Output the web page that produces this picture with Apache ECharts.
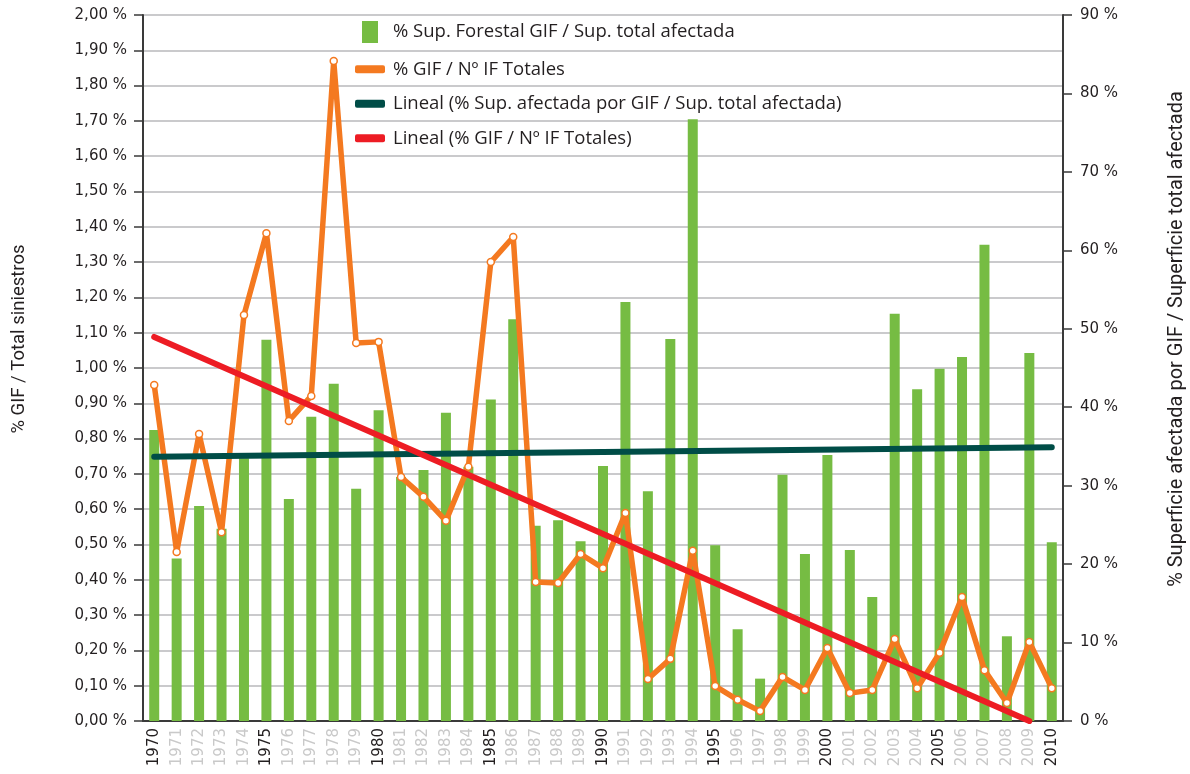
<!DOCTYPE html>
<html>
<head>
<meta charset="utf-8">
<script src="https://cdn.jsdelivr.net/npm/echarts@6/dist/echarts.min.js"></script>
<style>
  html, body { margin: 0; padding: 0; background: #fff; }
  #chart { width: 1190px; height: 774px; }
</style>
</head>
<body>
<div id="chart"></div>
<script>
// categorías (años)
const years = ["1970","1971","1972","1973","1974","1975","1976","1977","1978","1979",
  "1980","1981","1982","1983","1984","1985","1986","1987","1988","1989",
  "1990","1991","1992","1993","1994","1995","1996","1997","1998","1999",
  "2000","2001","2002","2003","2004","2005","2006","2007","2008","2009","2010"];

// % Sup. Forestal GIF / Sup. total afectada (eje derecho)
const supForestal = [37.1, 20.7, 27.4, 24.5, 33.5, 48.6, 28.3, 38.8, 43.0, 29.6,
  39.6, 31.1, 32.0, 39.3, 32.4, 41.0, 51.2, 24.9, 25.6, 22.9,
  32.5, 53.4, 29.3, 48.7, 76.7, 22.4, 11.7, 5.4, 31.4, 21.3,
  33.9, 21.8, 15.8, 51.9, 42.3, 44.9, 46.4, 60.7, 10.8, 46.9, 22.8];

// % GIF / Nº IF Totales (eje izquierdo)
const gifTotales = [0.952, 0.479, 0.813, 0.535, 1.150, 1.382, 0.850, 0.921, 1.870, 1.071,
  1.074, 0.691, 0.635, 0.567, 0.720, 1.300, 1.371, 0.394, 0.391, 0.473,
  0.433, 0.589, 0.119, 0.176, 0.482, 0.099, 0.060, 0.028, 0.125, 0.088,
  0.207, 0.079, 0.088, 0.232, 0.093, 0.193, 0.351, 0.144, 0.051, 0.224, 0.093];

// líneas de tendencia: [índice de año, valor]
const linealSup = [[0, 33.7], [40, 34.9]];
const linealGif = [[0, 1.088], [39, 0.0]];

const names = [
  "% Sup. Forestal GIF / Sup. total afectada",
  "% GIF / Nº IF Totales",
  "Lineal (% Sup. afectada por GIF / Sup. total afectada)",
  "Lineal (% GIF / Nº IF Totales)"
];

const chart = echarts.init(document.getElementById("chart"));
const txt = "#231f20";
const tickFont = "DejaVu Sans";
const legendFont = "Open Sans";

const option = {
  animation: false,
  grid: { left: 143, right: 127, top: 15, bottom: 53, outerBoundsMode: "none", containLabel: false },
  legend: [
    {
      data: [names[0]],
      left: 362, top: 21,
      padding: 0,
      itemWidth: 16, itemHeight: 22,
      icon: "rect",
      textStyle: { color: txt, fontFamily: legendFont, fontSize: 18.5, padding: [0, 0, 0, 10] }
    },
    {
      data: [
        { name: names[1], icon: "roundRect", itemStyle: { color: "#f47920", borderWidth: 0 } },
        { name: names[2], icon: "roundRect" },
        { name: names[3], icon: "roundRect" }
      ],
      orient: "vertical",
      left: 355, top: 59,
      padding: 0,
      itemWidth: 30, itemHeight: 8, itemGap: 14,
      textStyle: { color: txt, fontFamily: legendFont, fontSize: 18.5, lineHeight: 20.5, padding: [0, 0, 0, 3] }
    }
  ],
  xAxis: {
    type: "category",
    data: years,
    boundaryGap: true,
    axisLine: { lineStyle: { color: "#3a3a3a", width: 2 } },
    axisTick: { show: false },
    axisLabel: {
      rotate: 90,
      interval: 0,
      margin: 7,
      fontFamily: tickFont,
      fontSize: 15,
      color: function (v, i) { return (+v) % 5 === 0 ? txt : "#c9c9c9"; }
    }
  },
  yAxis: [
    {
      type: "value",
      min: 0, max: 2, interval: 0.1,
      name: "% GIF / Total siniestros",
      nameLocation: "middle",
      nameRotate: 90,
      nameGap: 114,
      nameTextStyle: { color: txt, fontFamily: "Roboto", fontSize: 18.5, padding: [0, 0, 0, 58] },
      axisLine: { show: true, lineStyle: { color: "#3a3a3a", width: 2 } },
      axisTick: { show: true, length: 9, lineStyle: { color: "#3a3a3a", width: 1.5 } },
      axisLabel: {
        margin: 16,
        fontFamily: tickFont, fontSize: 15, color: txt,
        formatter: function (v) { return v.toFixed(2).replace(".", ",") + " %"; }
      },
      splitLine: { show: true, lineStyle: { color: "#b9b9bb", width: 1.5 } }
    },
    {
      type: "value",
      min: 0, max: 90, interval: 10,
      position: "right",
      name: "% Superficie afectada por GIF / Superficie total afectada",
      nameLocation: "middle",
      nameRotate: 90,
      nameGap: 104,
      nameTextStyle: { color: txt, fontFamily: "Roboto", fontSize: 20, padding: [0, 0, 0, 58] },
      axisLine: { show: true, lineStyle: { color: "#3a3a3a", width: 2 } },
      axisTick: { show: true, length: 9, lineStyle: { color: "#3a3a3a", width: 1.5 } },
      axisLabel: {
        margin: 17,
        fontFamily: tickFont, fontSize: 15, color: txt,
        formatter: function (v) { return v + " %"; }
      },
      splitLine: { show: false }
    }
  ],
  series: [
    {
      name: names[0],
      type: "bar",
      yAxisIndex: 1,
      data: supForestal,
      barWidth: 10,
      itemStyle: { color: "#76bc43" },
      z: 1
    },
    {
      name: names[1],
      type: "line",
      yAxisIndex: 0,
      data: gifTotales,
      symbol: "circle",
      symbolSize: 7,
      itemStyle: { color: "#ffffff", borderColor: "#f47920", borderWidth: 1.5 },
      lineStyle: { color: "#f47920", width: 5.5, join: "round" },
      z: 3
    },
    {
      name: names[2],
      type: "line",
      yAxisIndex: 1,
      data: linealSup,
      showSymbol: false,
      symbol: "none",
      itemStyle: { color: "#004d47" },
      lineStyle: { color: "#004d47", width: 6, cap: "round" },
      z: 4
    },
    {
      name: names[3],
      type: "line",
      yAxisIndex: 0,
      data: linealGif,
      showSymbol: false,
      symbol: "none",
      itemStyle: { color: "#ed1c24" },
      lineStyle: { color: "#ed1c24", width: 6, cap: "round" },
      z: 5
    }
  ]
};

chart.setOption(option);
</script>
</body>
</html>
